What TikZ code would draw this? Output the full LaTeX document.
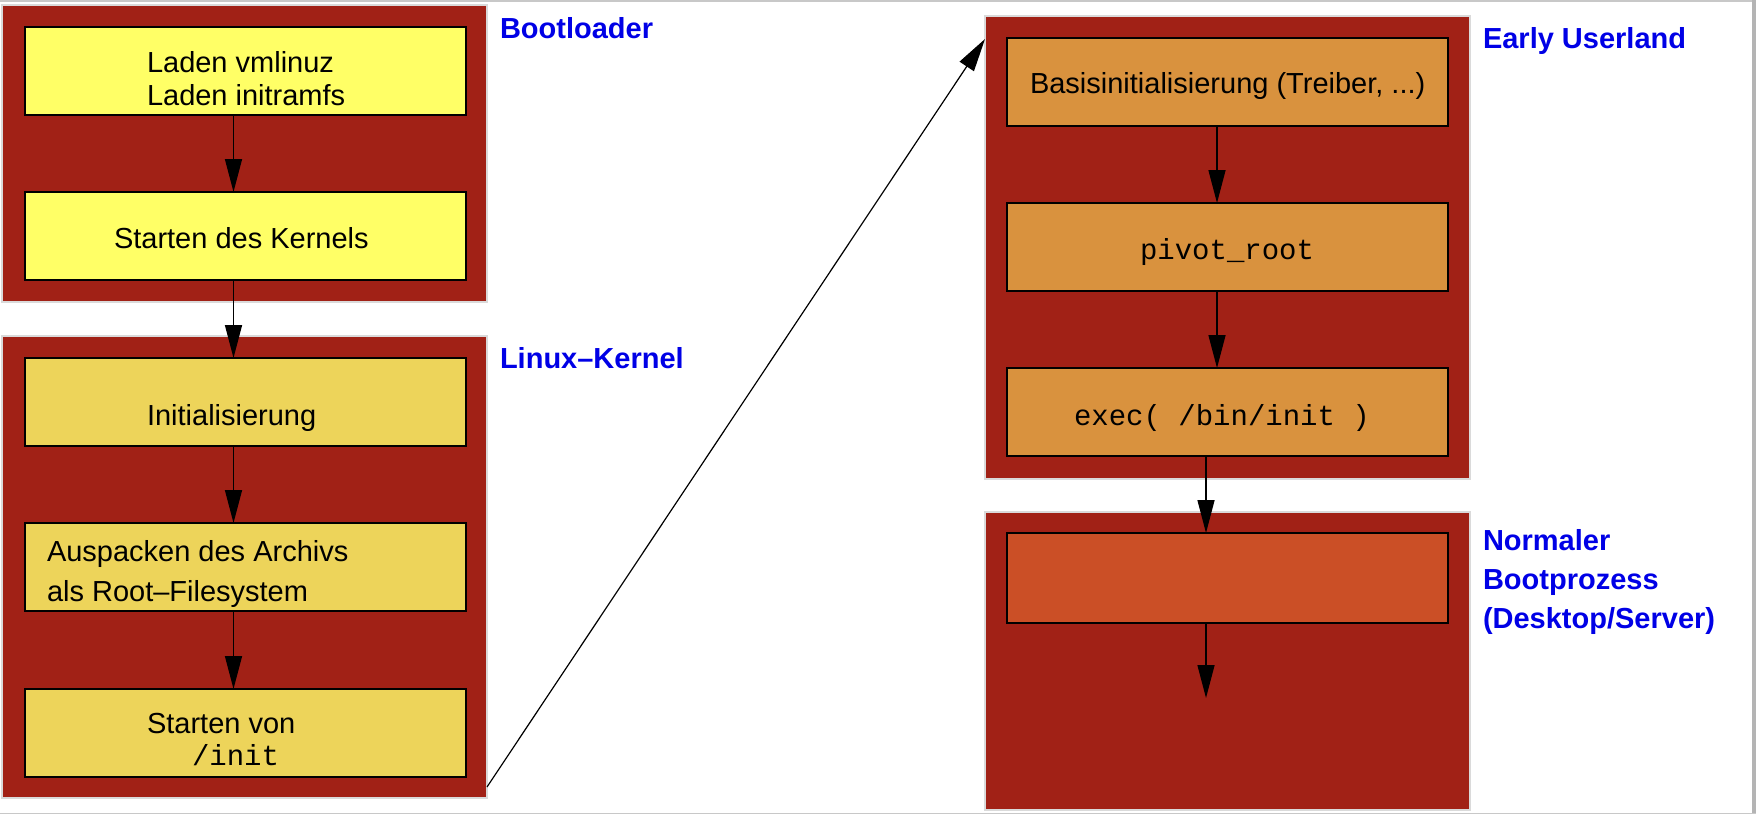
\documentclass[tikz,border=0pt]{standalone}
\usepackage{fontspec}
\setmainfont{Liberation Sans}
\setmonofont{Liberation Mono}
\usetikzlibrary{arrows.meta}
\definecolor{outerred}{RGB}{161,33,22}
\definecolor{bootyellow}{RGB}{255,255,102}
\definecolor{kernyellow}{RGB}{237,212,90}
\definecolor{earlyorange}{RGB}{217,146,62}
\definecolor{normorange}{RGB}{203,79,38}
\definecolor{lblue}{RGB}{0,0,230}
\definecolor{framegray}{RGB}{200,200,200}
\definecolor{bordergray}{RGB}{218,218,218}
\begin{document}
\begin{tikzpicture}[x=1pt,y=-1pt,
  cluster/.style={rectangle, fill=outerred, draw=bordergray, line width=1.5pt, inner sep=0pt, outer sep=0pt, anchor=north west, minimum width=485pt},
  stepbox/.style={rectangle, draw=black, line width=2pt, inner sep=0pt, outer sep=0pt, anchor=north west, minimum width=441pt, minimum height=88pt},
  txt/.style={anchor=base west, inner sep=0pt, outer sep=0pt, font=\fontsize{29}{33}\selectfont},
  mono/.style={txt, font=\fontsize{29}{33}\selectfont\ttfamily},
  lbl/.style={txt, font=\fontsize{29}{33}\selectfont\bfseries, text=lblue},
  arr/.style={line width=1.5pt, -{Triangle[length=33pt,width=17pt]}},
]
\useasboundingbox (0,0) rectangle (1756,814);
% frame
\fill[framegray] (0,0) rectangle (1756,1.5);
\fill[framegray!90!black] (1752,0) rectangle (1756,814);
\fill[framegray] (0,812.5) rectangle (1756,814);

% clusters
\node[cluster, minimum height=297pt] (bl) at (2,5) {};
\node[cluster, minimum height=462pt] (lk) at (2,336) {};
\node[cluster, minimum height=463pt] (eu) at (985,16) {};
\node[cluster, minimum height=298pt] (nb) at (985,512) {};

% boxes left
\node[stepbox, fill=bootyellow] (b1) at (24.5,27) {};
\node[stepbox, fill=bootyellow] (b2) at (24.5,192) {};
\node[stepbox, fill=kernyellow] (k1) at (24.5,358) {};
\node[stepbox, fill=kernyellow] (k2) at (24.5,523) {};
\node[stepbox, fill=kernyellow] (k3) at (24.5,689) {};
% boxes right
\node[stepbox, fill=earlyorange] (e1) at (1007,38) {};
\node[stepbox, fill=earlyorange] (e2) at (1007,203) {};
\node[stepbox, fill=earlyorange] (e3) at (1007,368) {};
\node[stepbox, fill=normorange, minimum height=90pt] (n1) at (1007,533) {};

% texts
\node[txt] (t1a) at (147,72) {Laden vmlinuz};
\node[txt] (t1b) at (147,105) {Laden initramfs};
\node[txt] (t2) at (114,248) {Starten des Kernels};
\node[txt] (t3) at (147,425) {Initialisierung};
\node[txt] (t4a) at (47,561) {Auspacken des Archivs};
\node[txt] (t4b) at (47,601) {als Root–Filesystem};
\node[txt] (t5a) at (147,733) {Starten von};
\node[mono] (t5b) at (192,765) {/init};
\node[txt] (t6) at (1030,93) {Basisinitialisierung (Treiber, ...)};
\node[mono] (t7) at (1140,259) {pivot\_root};
\node[mono] (t8) at (1074,425) {exec( /bin/init )};

% cluster labels
\node[lbl] (l1) at (500,38) {Bootloader};
\node[lbl] (l2) at (500,368) {Linux–Kernel};
\node[lbl] (l3) at (1483,48) {Early Userland};
\node[lbl] (l4a) at (1483,550) {Normaler};
\node[lbl] (l4b) at (1483,589) {Bootprozess};
\node[lbl] (l4c) at (1483,628) {(Desktop/Server)};

% arrows
\coordinate (colL) at (233.5,0);
\coordinate (colE) at (1217,0);
\coordinate (colN) at (1206,0);
\coordinate (nend) at (1206,698);
\draw[arr] (b1.south -| colL) -- (b2.north -| colL);
\draw[arr] (b2.south -| colL) -- (k1.north -| colL);
\draw[arr] (k1.south -| colL) -- (k2.north -| colL);
\draw[arr] (k2.south -| colL) -- (k3.north -| colL);
\draw[arr] (e1.south -| colE) -- (e2.north -| colE);
\draw[arr] (e2.south -| colE) -- (e3.north -| colE);
\draw[arr] (e3.south -| colN) -- (n1.north -| colN);
\draw[arr] (n1.south -| colN) -- (nend);
\draw[arr, line width=1.2pt] ([yshift=11pt]lk.south east) -- ([yshift=-23pt]eu.north west);
\end{tikzpicture}
\end{document}
